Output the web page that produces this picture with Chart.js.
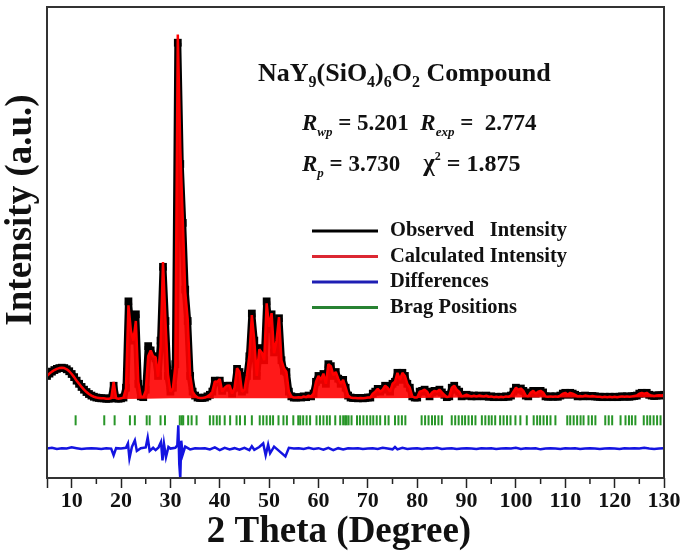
<!DOCTYPE html>
<html>
<head>
<meta charset="utf-8">
<script src="https://cdn.jsdelivr.net/npm/chart.js@4/dist/chart.umd.min.js"></script>
<style>
  body { margin: 0; background: #fff; }
  canvas { display: block; }
</style>
</head>
<body>
<canvas id="grafico" width="685" height="555"></canvas>
<script>
// grade de 2theta (passo 0.5 grau, de 5 a 130)
const twoTheta = Array.from({ length: 251 }, (_, i) => 5 + i * 0.5);

const observado = [
    60, 66, 71, 75, 78, 80, 81, 80, 77, 72, 65, 57, 48, 40, 32, 25, 19, 14, 10, 7,
    5, 4, 3, 3, 2, 2, 3, 35, 3, 2, 3, 5, 30, 250, 180, 150, 217, 40, 8, 6,
    25, 136, 125, 110, 105, 60, 150, 338, 200, 60, 20, 30, 90, 909, 600, 450, 280, 200, 60, 20,
    10, 5, 4, 4, 5, 8, 12, 20, 48, 45, 48, 22, 30, 35, 35, 15, 30, 78, 70, 20,
    25, 60, 110, 219, 150, 60, 131, 120, 100, 250, 180, 217, 120, 150, 207, 100, 73, 70, 20, 8,
    5, 5, 6, 5, 8, 6, 10, 8, 15, 45, 60, 50, 65, 40, 90, 85, 60, 70, 53, 40,
    50, 30, 10, 5, 4, 4, 3, 4, 3, 4, 5, 5, 15, 20, 27, 20, 25, 35, 30, 20,
    40, 45, 68, 50, 68, 60, 40, 30, 8, 5, 5, 20, 22, 25, 20, 8, 18, 22, 20, 25,
    18, 12, 6, 8, 30, 35, 25, 20, 8, 10, 12, 10, 8, 10, 8, 10, 9, 8, 10, 7,
    8, 6, 7, 6, 7, 6, 8, 7, 10, 20, 30, 25, 28, 22, 10, 8, 18, 22, 15, 20,
    22, 18, 8, 7, 8, 7, 8, 7, 10, 15, 17, 12, 17, 15, 12, 8, 9, 8, 10, 9,
    8, 9, 8, 7, 7, 6, 7, 6, 7, 6, 7, 6, 7, 8, 7, 8, 7, 8, 9, 10,
    15, 17, 15, 17, 12, 10, 9, 10, 11, 10, 12
];

// intensidade calculada (refinamento)
const calculado = [
    60, 66, 71, 75, 78, 80, 81, 80, 77, 72, 65, 57, 48, 40, 32, 25, 19, 14, 10, 7,
    5, 4, 3, 3, 2, 2, 3, 45, 3, 2, 3, 5, 28, 240, 175, 150, 200, 45, 8, 6,
    22, 110, 125, 110, 108, 58, 135, 350, 200, 65, 20, 28, 85, 930, 640, 460, 275, 205, 62, 20,
    10, 5, 4, 4, 5, 8, 12, 20, 46, 45, 52, 20, 30, 35, 36, 15, 30, 80, 70, 20,
    25, 62, 112, 215, 150, 60, 128, 120, 100, 245, 185, 220, 118, 150, 210, 100, 80, 70, 20, 8,
    5, 5, 6, 5, 8, 6, 10, 8, 15, 45, 60, 50, 66, 40, 90, 85, 62, 70, 53, 40,
    50, 30, 10, 5, 4, 4, 3, 4, 3, 4, 5, 5, 15, 20, 27, 20, 25, 35, 30, 20,
    40, 45, 68, 50, 68, 60, 40, 30, 8, 5, 5, 20, 22, 25, 20, 8, 18, 22, 20, 25,
    18, 12, 6, 8, 30, 35, 25, 20, 8, 10, 12, 10, 8, 10, 8, 10, 9, 8, 10, 7,
    8, 6, 7, 6, 7, 6, 8, 7, 10, 20, 30, 25, 28, 22, 10, 8, 18, 22, 15, 20,
    22, 18, 8, 7, 8, 7, 8, 7, 10, 15, 17, 12, 17, 15, 12, 8, 9, 8, 10, 9,
    8, 9, 8, 7, 7, 6, 7, 6, 7, 6, 7, 6, 7, 8, 7, 8, 7, 8, 9, 10,
    15, 17, 15, 17, 12, 10, 9, 10, 11, 10, 12
];

// fundo (background) do refinamento
const fundoTheta = [5, 6, 7, 8, 9, 10, 11, 12, 13, 14, 15, 16, 18, 20, 25, 30, 40, 50, 60, 70, 80, 90, 100, 110, 120, 130];
const fundo = [58, 70, 77, 80, 76, 64, 47, 31, 18, 9, 4, 2, 1, 1, 2, 3, 3, 3, 3, 3, 4, 5, 5, 5, 5, 6];

// diferença (obs - calc), deslocada para baixo
const difOffset = -125;
const difTheta = [
    5, 6, 7, 8, 9, 10, 11, 12, 13, 14, 15, 16, 17, 18, 18.5, 19, 20, 21, 21.4, 21.7,
    22.2, 22.8, 23.2, 24, 25, 25.4, 25.8, 26.5, 27, 27.6, 28.1, 28.4, 28.7, 29.1, 29.6, 30, 31, 31.4, 31.6, 31.8,
    32, 32.2, 32.5, 33, 34, 35, 36, 37, 38, 39, 40, 41, 42, 43, 44, 45, 46, 46.5, 47, 48,
    48.8, 49.3, 49.8, 50.2, 51, 52, 53.3, 54, 55, 56, 57, 58, 59, 60, 61, 62, 63, 64, 65, 66,
    67, 68, 69, 70, 71, 72, 73, 74, 75, 75.5, 76, 77, 78, 79, 80, 81, 82, 83, 84, 85,
    86, 87, 88, 89, 90, 91, 92, 93, 94, 95, 96, 97, 98, 99, 100, 101, 102, 103, 104, 105,
    106, 107, 108, 109, 110, 111, 112, 113, 114, 115, 116, 117, 118, 119, 120, 121, 122, 123, 124, 125,
    126, 127, 128, 129, 130
];
const diferenca = [
    0, 2, -1, 1, 0, 3, 1, -1, 0, 1, 0, -1, 1, 0, -17, 1, 0, 2, 13, -25,
    4, 21, -6, 1, 3, 28, -6, 2, -4, 3, 17, -30, 12, -22, 4, 0, 2, 8, 59, -40,
    -76, 20, -15, 5, -2, 1, 0, 1, -2, 3, -4, 2, -2, 1, -3, 2, -4, 6, -3, 4,
    13, -17, 10, -12, 5, -6, -20, 2, 0, 1, -1, 2, -1, 1, -3, 2, -4, 1, -2, 1,
    0, 1, -1, 0, 1, -1, 2, 0, -2, 4, -2, 2, -1, 0, 1, -1, 1, 0, 2, -1,
    0, 1, -1, 0, 1, 0, -1, 1, 0, 1, -1, 0, 1, 0, 2, -1, 1, 0, 1, -2,
    0, 1, 0, -1, 1, 0, 1, -1, 0, 1, 0, -1, 0, 1, 0, -1, 1, 0, 1, 0,
    2, 0, -1, 0, 1
];

// posições de Bragg
const braggNivel = -53;
const braggPos = [
    10.8, 16.6, 18.7, 21.8, 22.8, 25.2, 25.8, 28.0, 28.9, 31.9, 32.3, 32.6, 33.6, 34.3, 35.3,
    38.0, 38.7, 39.4, 40.0, 41.0, 42.1, 43.4, 44.1, 45.1, 46.5, 48.1, 48.8, 49.5, 50.2, 50.8,
    51.9, 52.9, 53.6, 54.9, 55.9, 56.3, 56.9, 57.6, 58.3, 59.6, 60.3, 61.0, 61.7, 62.3, 63.4,
    64.4, 65.0, 65.4, 65.7, 66.1, 66.7, 67.8, 68.4, 69.1, 69.8, 70.5, 71.1, 71.8, 72.5, 73.5,
    74.2, 75.5, 76.2, 76.9, 77.6, 80.9, 81.6, 82.3, 83.0, 83.6, 84.3, 85.0, 87.0, 87.7, 88.4,
    89.1, 89.7, 90.4, 91.1, 91.8, 93.1, 93.8, 94.5, 95.1, 95.8, 96.8, 97.5, 98.2, 98.9, 99.9,
    100.9, 102.2, 103.6, 104.3, 104.9, 105.6, 106.3, 107.0, 108.0, 110.4, 111.0, 111.7, 112.4, 113.1, 113.7,
    114.7, 115.4, 116.1, 118.1, 118.8, 119.5, 121.2, 122.2, 122.9, 123.5, 124.2, 125.9, 126.6, 127.2, 127.9,
    128.6, 129.3
];

const ticksMenores = [15, 25, 35, 45, 55, 65, 75, 85, 95, 105, 115, 125];

const fonte = '"Liberation Serif", "Times New Roman", serif';

// escreve texto com subscritos/sobrescritos
function textoRico(ctx, x, y, partes) {
    partes.forEach(p => {
        ctx.font = `${p.italico ? 'italic ' : ''}bold ${p.tam}px ${fonte}`;
        ctx.fillText(p.t, x, y + (p.dy || 0));
        x += ctx.measureText(p.t).width;
    });
}

const decoracao = {
    id: 'decoracao',
    afterDatasetsDraw(chart) {
        const { ctx, chartArea: a, scales: { x } } = chart;
        ctx.save();

        // ticks menores
        ctx.strokeStyle = '#222';
        ctx.lineWidth = 1.5;
        ticksMenores.forEach(v => {
            const px = x.getPixelForValue(v);
            ctx.beginPath();
            ctx.moveTo(px, a.bottom);
            ctx.lineTo(px, a.bottom + 6);
            ctx.stroke();
        });

        // moldura
        ctx.strokeStyle = '#333';
        ctx.lineWidth = 2;
        ctx.strokeRect(a.left, a.top, a.right - a.left, a.bottom - a.top);

        // títulos dos eixos
        ctx.fillStyle = '#111';
        ctx.textAlign = 'center';
        ctx.textBaseline = 'middle';
        ctx.font = `bold 37px ${fonte}`;
        ctx.fillText('2 Theta (Degree)', 339, 532);
        ctx.save();
        ctx.translate(21, 210);
        ctx.rotate(-Math.PI / 2);
        ctx.fillText('Intensity (a.u.)', 0, 0);
        ctx.restore();

        // anotações
        ctx.textAlign = 'left';
        ctx.textBaseline = 'alphabetic';
        textoRico(ctx, 258, 81, [
            { t: 'NaY', tam: 26 }, { t: '9', tam: 16, dy: 6 },
            { t: '(SiO', tam: 26 }, { t: '4', tam: 16, dy: 6 },
            { t: ')', tam: 26 }, { t: '6', tam: 16, dy: 6 },
            { t: 'O', tam: 26 }, { t: '2', tam: 16, dy: 6 },
            { t: ' Compound', tam: 26 }
        ]);
        textoRico(ctx, 302, 130, [
            { t: 'R', tam: 23, italico: true }, { t: 'wp', tam: 13, dy: 6, italico: true },
            { t: ' = 5.201  ', tam: 23 },
            { t: 'R', tam: 23, italico: true }, { t: 'exp', tam: 13, dy: 6, italico: true },
            { t: ' =  2.774', tam: 23 }
        ]);
        textoRico(ctx, 302, 171, [
            { t: 'R', tam: 23, italico: true }, { t: 'p', tam: 13, dy: 6, italico: true },
            { t: ' = 3.730    ', tam: 23 },
            { t: 'χ', tam: 25 }, { t: '2', tam: 12, dy: -11 },
            { t: ' = 1.875', tam: 24 }
        ]);

        // legenda
        const ds = chart.data.datasets.slice(0, 4);
        ctx.textBaseline = 'middle';
        ctx.font = `bold 20.5px ${fonte}`;
        ds.forEach((d, i) => {
            const y = 231 + i * 25.5;
            ctx.strokeStyle = d.corLegenda;
            ctx.lineWidth = 3;
            ctx.beginPath();
            ctx.moveTo(312, y);
            ctx.lineTo(378, y);
            ctx.stroke();
            ctx.fillStyle = '#111';
            ctx.fillText(d.label, 390, y);
        });

        ctx.restore();
    }
};

const pontos = (xs, ys, off = 0) => xs.map((v, i) => ({ x: v, y: ys[i] + off }));

new Chart(document.getElementById('grafico'), {
    type: 'scatter',
    data: {
        datasets: [
            {
                label: 'Observed   Intensity',
                data: pontos(twoTheta, observado),
                showLine: true,
                borderColor: '#000',
                borderWidth: 7,
                borderJoinStyle: 'bevel',
                pointStyle: 'rect',
                pointRadius: 5.5,
                pointBackgroundColor: '#000',
                pointBorderWidth: 0,
                corLegenda: '#000',
                order: 1
            },
            {
                label: 'Calculated Intensity',
                data: pontos(twoTheta, calculado),
                showLine: true,
                borderColor: 'rgb(255,0,0)',
                borderWidth: 2.5,
                borderJoinStyle: 'bevel',
                pointRadius: 0,
                fill: { target: 4 },
                backgroundColor: 'rgba(255,0,0,0.9)',
                corLegenda: 'rgb(220,40,50)',
                order: 0
            },
            {
                label: 'Differences',
                data: pontos(difTheta, diferenca, difOffset),
                showLine: true,
                borderColor: 'rgb(20,20,225)',
                borderWidth: 2.5,
                pointRadius: 0,
                corLegenda: 'rgb(30,30,180)',
                order: 2
            },
            {
                label: 'Brag Positions',
                data: braggPos.map(v => ({ x: v, y: braggNivel })),
                showLine: false,
                pointStyle: 'line',
                rotation: 90,
                pointRadius: 5,
                borderColor: 'rgb(40,150,40)',
                borderWidth: 2,
                corLegenda: 'rgb(40,130,50)',
                order: 3
            },
            {
                label: '',
                data: pontos(fundoTheta, fundo),
                showLine: true,
                borderColor: 'rgba(0,0,0,0)',
                borderWidth: 0,
                pointRadius: 0,
                order: 4
            }
        ]
    },
    options: {
        responsive: false,
        animation: false,
        layout: { padding: { top: 3, right: 21, left: 0, bottom: 0 } },
        plugins: {
            legend: { display: false },
            tooltip: { enabled: false }
        },
        scales: {
            x: {
                type: 'linear',
                min: 5,
                max: 130,
                afterFit: s => { s.height = 77; },
                grid: { drawOnChartArea: false, tickLength: 10, tickColor: '#222', tickWidth: 1.5 },
                border: { display: false },
                ticks: {
                    stepSize: 10,
                    padding: 0,
                    color: '#111',
                    font: { family: fonte, weight: 'bold', size: 22 },
                    callback: v => (v % 10 === 0 ? v : '')
                }
            },
            y: {
                min: -200,
                max: 1000,
                afterFit: s => { s.width = 47; },
                grid: { display: false },
                border: { display: false },
                ticks: { display: false }
            }
        }
    },
    plugins: [decoracao]
});
</script>
</body>
</html>
